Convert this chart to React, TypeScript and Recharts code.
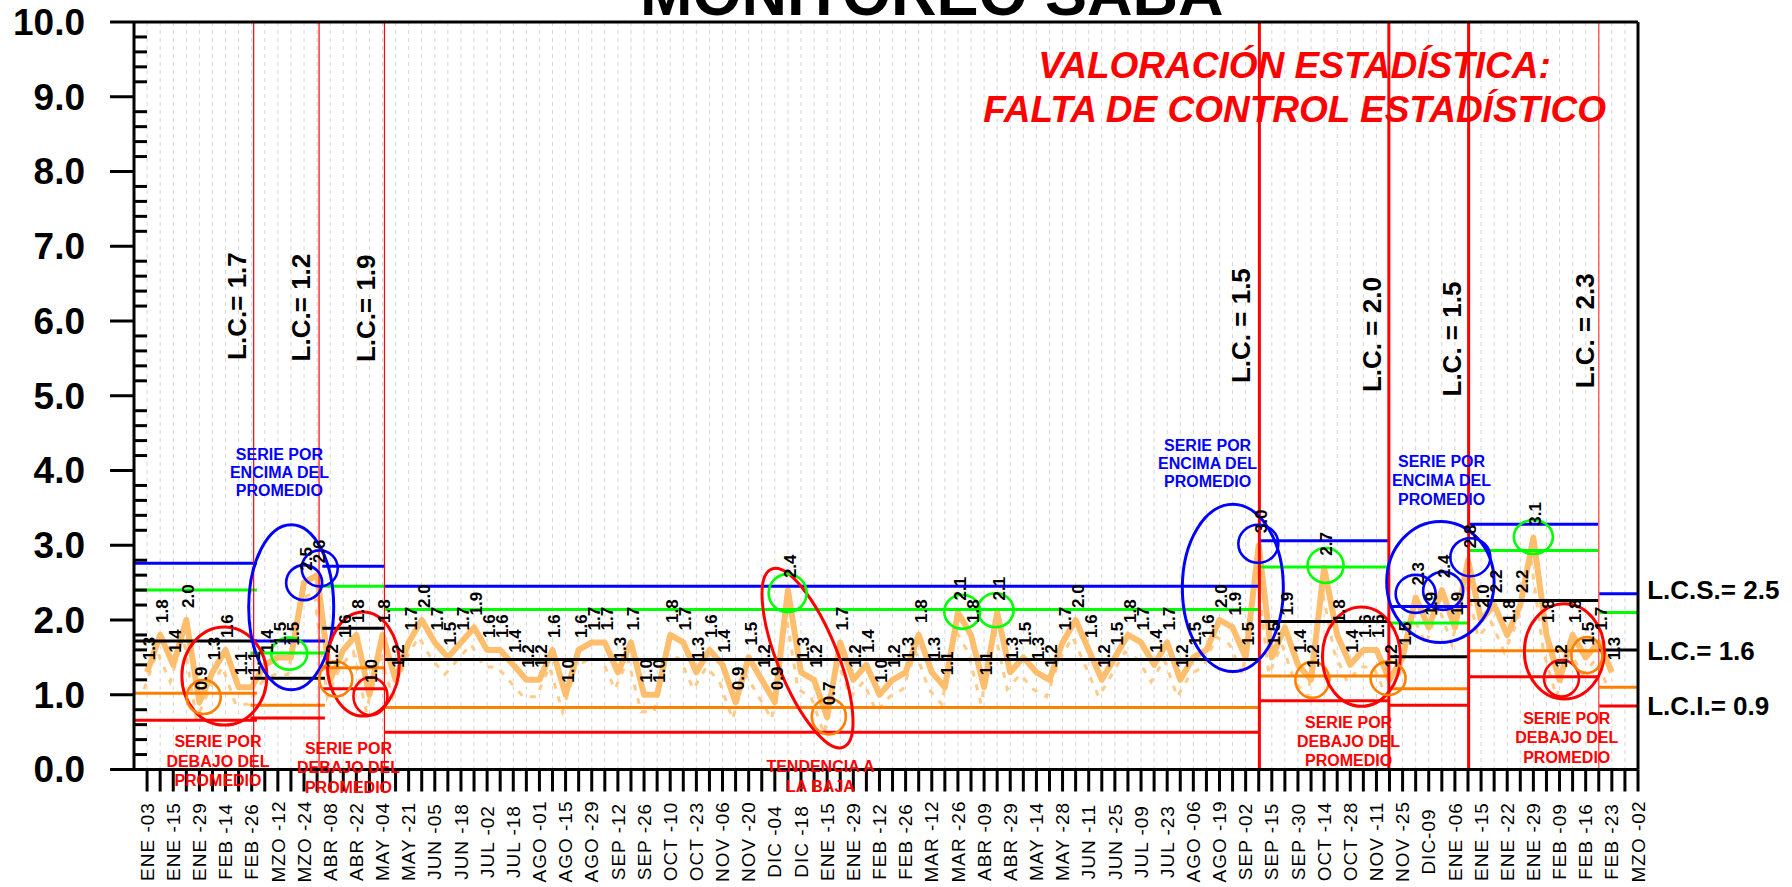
import React from 'react';
import {
  LineChart,
  Line,
  XAxis,
  YAxis,
  CartesianGrid,
  ReferenceLine,
  ReferenceDot,
  LabelList,
} from 'recharts';

// valores semanales (posicion 1..113)
const valores = [
  1.3, 1.8, 1.4, 2.0, 0.9, 1.3, 1.6, 1.1, 1.1, 1.4,
  1.5, 1.5, 2.5, 2.6, 1.2, 1.6, 1.8, 1.0, 1.8, 1.2,
  1.7, 2.0, 1.7, 1.5, 1.7, 1.9, 1.6, 1.6, 1.4, 1.2,
  1.2, 1.6, 1.0, 1.6, 1.7, 1.7, 1.3, 1.7, 1.0, 1.0,
  1.8, 1.7, 1.3, 1.6, 1.4, 0.9, 1.5, 1.2, 0.9, 2.4,
  1.3, 1.2, 0.7, 1.7, 1.2, 1.4, 1.0, 1.2, 1.3, 1.8,
  1.3, 1.1, 2.1, 1.8, 1.1, 2.1, 1.3, 1.5, 1.3, 1.2,
  1.7, 2.0, 1.6, 1.2, 1.5, 1.8, 1.7, 1.4, 1.7, 1.2,
  1.5, 1.6, 2.0, 1.9, 1.5, 3.0, 1.5, 1.9, 1.4, 1.2,
  2.7, 1.8, 1.4, 1.6, 1.6, 1.2, 1.5, 2.3, 1.9, 2.4,
  1.9, 2.8, 2.0, 2.2, 1.8, 2.2, 3.1, 1.8, 1.2, 1.8,
  1.5, 1.7, 1.3,
];

// una etiqueta cada dos semanas (posiciones impares)
const fechas = [
  'ENE -03', 'ENE -15', 'ENE -29', 'FEB -14', 'FEB -26', 'MZO -12', 'MZO -24',
  'ABR -08', 'ABR -22', 'MAY -04', 'MAY -21', 'JUN -05', 'JUN -18', 'JUL -02',
  'JUL -18', 'AGO -01', 'AGO -15', 'AGO -29', 'SEP -12', 'SEP -26', 'OCT -10',
  'OCT -23', 'NOV -06', 'NOV -20', 'DIC -04', 'DIC -18', 'ENE -15', 'ENE -29',
  'FEB -12', 'FEB -26', 'MAR -12', 'MAR -26', 'ABR -09', 'ABR -29', 'MAY -14',
  'MAY -28', 'JUN -11', 'JUN -25', 'JUL -09', 'JUL -23', 'AGO -06', 'AGO -19',
  'SEP -02', 'SEP -15', 'SEP -30', 'OCT -14', 'OCT -28', 'NOV -11', 'NOV -25',
  'DIC-09', 'ENE -06', 'ENE -15', 'ENE -22', 'ENE -29', 'FEB -09', 'FEB -16',
  'FEB -23', 'MZO -02',
];

const totalPosiciones = 115;

const AZUL = '#0000FF';
const VERDE = '#00FF00';
const NARANJA = '#FF8000';
const ROJO = '#FF0000';

// limites por fase: lcs (azul), sup (verde), lc (negro), inf (naranja), lci (rojo)
const fases = [
  { desde: 0, hasta: 9.4, lcs: 2.76, sup: 2.4, lc: 1.72, inf: 1.02, lci: 0.66 },
  { desde: 8.9, hasta: 14.6, lcs: 1.72, sup: 1.56, lc: 1.22, inf: 0.86, lci: 0.69 },
  { desde: 14.4, hasta: 19.2, lcs: 2.72, sup: 2.45, lc: 1.89, inf: 1.36, lci: 1.08 },
  { desde: 19.2, hasta: 86.1, lcs: 2.45, sup: 2.14, lc: 1.47, inf: 0.83, lci: 0.5 },
  { desde: 86.05, hasta: 95.95, lcs: 3.06, sup: 2.71, lc: 1.98, inf: 1.25, lci: 0.92 },
  { desde: 95.95, hasta: 102.05, lcs: 2.18, sup: 1.96, lc: 1.51, inf: 1.08, lci: 0.86 },
  { desde: 102.05, hasta: 112, lcs: 3.28, sup: 2.93, lc: 2.26, inf: 1.59, lci: 1.24 },
  { desde: 112, hasta: 115, lcs: 2.35, sup: 2.1, lc: 1.6, inf: 1.1, lci: 0.85 },
];

const cortes = [
  { k: 9.15, ancho: 1.2, color: ROJO },
  { k: 14.15, ancho: 1.2, color: ROJO },
  { k: 19.15, ancho: 1.2, color: ROJO },
  { k: 86.05, ancho: 3, color: ROJO },
  { k: 95.95, ancho: 3, color: ROJO },
  { k: 102.05, ancho: 3, color: ROJO },
  { k: 112, ancho: 1.5, color: '#FF6060' },
];

const circulos = [
  { k: 6.91, v: 1.25, rx: 42.5, ry: 49, rot: 0, color: ROJO },
  { k: 5.33, v: 0.97, rx: 17, ry: 17, rot: 0, color: NARANJA },
  { k: 12.02, v: 2.17, rx: 42.5, ry: 82.5, rot: 0, color: AZUL },
  { k: 11.87, v: 1.55, rx: 18, ry: 16, rot: 0, color: VERDE },
  { k: 13.01, v: 2.5, rx: 18, ry: 17.5, rot: 0, color: AZUL },
  { k: 14.2, v: 2.69, rx: 18, ry: 18, rot: 0, color: AZUL },
  { k: 17.53, v: 1.41, rx: 36, ry: 52, rot: 0, color: ROJO },
  { k: 15.43, v: 1.21, rx: 16.5, ry: 17.5, rot: 0, color: NARANJA },
  { k: 18.08, v: 0.98, rx: 17, ry: 19, rot: 0, color: ROJO },
  { k: 51.5, v: 1.49, rx: 30, ry: 96, rot: -22, color: ROJO },
  { k: 49.98, v: 2.36, rx: 19, ry: 19, rot: 0, color: VERDE },
  { k: 53.13, v: 0.71, rx: 17, ry: 18, rot: 0, color: NARANJA },
  { k: 63.33, v: 2.11, rx: 18, ry: 17, rot: 0, color: VERDE },
  { k: 65.88, v: 2.13, rx: 18, ry: 17, rot: 0, color: VERDE },
  { k: 84.02, v: 2.43, rx: 50.5, ry: 83.7, rot: 0, color: AZUL },
  { k: 85.97, v: 3.02, rx: 20, ry: 19, rot: 0, color: AZUL },
  { k: 90.1, v: 1.2, rx: 17, ry: 18, rot: 0, color: NARANJA },
  { k: 91.11, v: 2.73, rx: 18, ry: 17.5, rot: 0, color: VERDE },
  { k: 93.85, v: 1.51, rx: 39, ry: 49.7, rot: 0, color: ROJO },
  { k: 95.89, v: 1.22, rx: 17.5, ry: 16.7, rot: 0, color: NARANJA },
  { k: 99.89, v: 2.51, rx: 53.7, ry: 60.5, rot: 0, color: AZUL },
  { k: 98.0, v: 2.35, rx: 20, ry: 19, rot: 0, color: AZUL },
  { k: 100.1, v: 2.39, rx: 20, ry: 19, rot: 0, color: AZUL },
  { k: 102.18, v: 2.84, rx: 20, ry: 19, rot: 0, color: AZUL },
  { k: 107.0, v: 3.11, rx: 19.5, ry: 17, rot: 0, color: VERDE },
  { k: 109.37, v: 1.58, rx: 40, ry: 47.7, rot: 0, color: ROJO },
  { k: 109.15, v: 1.22, rx: 17.5, ry: 18.3, rot: 0, color: ROJO },
  { k: 111.09, v: 1.53, rx: 15.5, ry: 18, rot: 0, color: NARANJA },
];

const notas = [
  { k: 11.12, v: 4.21, color: AZUL, alto: 18, lineas: ['SERIE POR', 'ENCIMA DEL', 'PROMEDIO'] },
  { k: 6.42, v: 0.375, color: ROJO, alto: 19.5, lineas: ['SERIE POR', 'DEBAJO DEL', 'PROMEDIO'] },
  { k: 16.4, v: 0.288, color: ROJO, alto: 19.5, lineas: ['SERIE POR', 'DEBAJO DEL', 'PROMEDIO'] },
  { k: 52.49, v: 0.04, color: ROJO, alto: 20, lineas: ['TENDENCIA A', 'LA BAJA'] },
  { k: 82.09, v: 4.33, color: AZUL, alto: 18, lineas: ['SERIE POR', 'ENCIMA DEL', 'PROMEDIO'] },
  { k: 92.87, v: 0.629, color: ROJO, alto: 19, lineas: ['SERIE POR', 'DEBAJO DEL', 'PROMEDIO'] },
  { k: 99.98, v: 4.118, color: AZUL, alto: 19, lineas: ['SERIE POR', 'ENCIMA DEL', 'PROMEDIO'] },
  { k: 109.55, v: 0.685, color: ROJO, alto: 19.4, lineas: ['SERIE POR', 'DEBAJO DEL', 'PROMEDIO'] },
];

const textosLC = [
  { k: 7.83, v: 5.48, texto: 'L.C.= 1.7' },
  { k: 12.8, v: 5.46, texto: 'L.C.= 1.2' },
  { k: 17.77, v: 5.45, texto: 'L.C.= 1.9' },
  { k: 84.62, v: 5.17, texto: 'L.C. = 1.5' },
  { k: 94.68, v: 5.05, texto: 'L.C. = 2.0' },
  { k: 100.8, v: 4.99, texto: 'L.C. = 1.5' },
  { k: 110.92, v: 5.1, texto: 'L.C. = 2.3' },
];

const limitesFinales = [
  { v: 2.4, texto: 'L.C.S.= 2.5' },
  { v: 1.58, texto: 'L.C.= 1.6' },
  { v: 0.85, texto: 'L.C.I.= 0.9' },
];

const datos = valores.map((v, i) => ({ k: i + 1, v }));
const ticksX = Array.from({ length: totalPosiciones }, (_, i) => i + 1);
const ticksY = Array.from({ length: 51 }, (_, i) => Math.round(i * 2) / 10);

const TICK_Y = 24;
const MARGEN_Y = 25;

const TickValor = (props: any) => {
  const { x, y, payload } = props;
  const v = payload.value;
  const ejeX = x + TICK_Y + MARGEN_Y;
  const mayor = Math.abs(v - Math.round(v)) < 1e-6;
  if (mayor) {
    return (
      <g>
        <line x1={ejeX - TICK_Y} x2={ejeX} y1={y} y2={y} stroke="#000" strokeWidth={3} />
        <text x={x} y={y} dy="0.35em" textAnchor="end" fontSize={37} fontWeight="bold" fill="#000">
          {v.toFixed(1)}
        </text>
      </g>
    );
  }
  return <line x1={ejeX} x2={ejeX + 13} y1={y} y2={y} stroke="#000" strokeWidth={3} />;
};

const TickFecha = (props: any) => {
  const { x, y, payload } = props;
  const k = payload.value;
  if (k % 2 === 0) return <g />;
  const ty = y + 50;
  return (
    <text
      x={x}
      y={ty}
      transform={`rotate(-90 ${x} ${ty})`}
      textAnchor="middle"
      dy="0.35em"
      fontSize={19}
      letterSpacing={1}
      fill="#000"
    >
      {fechas[(k - 1) / 2]}
    </text>
  );
};

const EtiquetaDato = (props: any) => {
  const { x, y, value } = props;
  const tx = x + 2;
  const ty = y - 12;
  return (
    <text
      x={tx}
      y={ty}
      transform={`rotate(-90 ${tx} ${ty})`}
      textAnchor="start"
      dy="0.35em"
      fontSize={17}
      fontWeight="bold"
      fill="#000"
    >
      {Number(value).toFixed(1)}
    </text>
  );
};

export default function App() {
  return (
    <div
      style={{
        position: 'absolute',
        left: 0,
        top: 0,
        width: 1792,
        height: 887,
        background: '#fff',
        fontFamily: "'Liberation Sans', Arial, sans-serif",
      }}
    >
      <style>{`.sombra path { transform: translate(-3px, 17px); }`}</style>
      <LineChart
        width={1792}
        height={887}
        data={datos}
        margin={{ top: 22, right: 154, bottom: 0, left: 0 }}
      >
        <CartesianGrid horizontal={false} stroke="#d6d6d6" strokeDasharray="4 4" />
        <XAxis
          dataKey="k"
          type="number"
          domain={[0, totalPosiciones]}
          ticks={ticksX}
          interval={0}
          height={117.5}
          tickSize={22}
          tickMargin={0}
          axisLine={{ stroke: '#000', strokeWidth: 3 }}
          tickLine={{ stroke: '#000', strokeWidth: 3 }}
          tick={<TickFecha />}
        />
        <YAxis
          type="number"
          domain={[0, 10]}
          ticks={ticksY}
          interval={0}
          width={134}
          tickSize={TICK_Y}
          tickMargin={MARGEN_Y}
          axisLine={{ stroke: '#000', strokeWidth: 3 }}
          tickLine={false}
          tick={<TickValor />}
        />
        <Line
          className="sombra"
          dataKey="v"
          stroke="#FFCA8A"
          strokeWidth={3}
          strokeDasharray="6 8"
          dot={false}
          activeDot={false}
          isAnimationActive={false}
        />
        <Line
          dataKey="v"
          stroke="#FFBE6E"
          strokeWidth={6}
          strokeLinejoin="round"
          dot={false}
          activeDot={false}
          isAnimationActive={false}
        >
          <LabelList dataKey="v" content={<EtiquetaDato />} />
        </Line>

        {fases.flatMap((f, i) =>
          [
            { v: f.lcs, c: AZUL },
            { v: f.sup, c: VERDE },
            { v: f.lc, c: '#000' },
            { v: f.inf, c: NARANJA },
            { v: f.lci, c: ROJO },
          ].map((n, j) => (
            <ReferenceLine
              key={`f${i}-${j}`}
              segment={[
                { x: f.desde, y: n.v },
                { x: f.hasta, y: n.v },
              ]}
              stroke={n.c}
              strokeWidth={3}
              ifOverflow="visible"
            />
          ))
        )}

        {cortes.map((c, i) => (
          <ReferenceLine key={`c${i}`} x={c.k} stroke={c.color} strokeWidth={c.ancho} />
        ))}
        <ReferenceLine y={10} stroke="#000" strokeWidth={3} />
        <ReferenceLine x={totalPosiciones} stroke="#000" strokeWidth={3} />

        {circulos.map((c, i) => (
          <ReferenceDot
            key={`o${i}`}
            x={c.k}
            y={c.v}
            r={1}
            ifOverflow="visible"
            shape={(p: any) => (
              <ellipse
                cx={p.cx}
                cy={p.cy}
                rx={c.rx}
                ry={c.ry}
                transform={`rotate(${c.rot} ${p.cx} ${p.cy})`}
                fill="none"
                stroke={c.color}
                strokeWidth={c.rx > 25 ? 3 : 2.6}
              />
            )}
          />
        ))}

        {notas.map((n, i) => (
          <ReferenceDot
            key={`n${i}`}
            x={n.k}
            y={n.v}
            r={1}
            ifOverflow="visible"
            shape={(p: any) => (
              <text
                x={p.cx}
                y={p.cy}
                textAnchor="middle"
                fontSize={16}
                fontWeight="bold"
                fill={n.color}
              >
                {n.lineas.map((l, j) => (
                  <tspan key={j} x={p.cx} y={p.cy + j * n.alto} dy="0.35em">
                    {l}
                  </tspan>
                ))}
              </text>
            )}
          />
        ))}

        {textosLC.map((t, i) => (
          <ReferenceDot
            key={`t${i}`}
            x={t.k}
            y={t.v}
            r={1}
            ifOverflow="visible"
            shape={(p: any) => (
              <text
                x={p.cx}
                y={p.cy}
                transform={`rotate(-90 ${p.cx} ${p.cy})`}
                textAnchor="start"
                dy="0.35em"
                fontSize={26}
                fontWeight="bold"
                fill="#000"
              >
                {t.texto}
              </text>
            )}
          />
        ))}

        {limitesFinales.map((t, i) => (
          <ReferenceDot
            key={`l${i}`}
            x={115.7}
            y={t.v}
            r={1}
            ifOverflow="visible"
            shape={(p: any) => (
              <text x={p.cx} y={p.cy} dy="0.35em" fontSize={26} fontWeight="bold" fill="#000">
                {t.texto}
              </text>
            )}
          />
        ))}

        <ReferenceDot
          x={61}
          y={10.1}
          r={1}
          ifOverflow="visible"
          shape={(p: any) => (
            <text x={p.cx} y={p.cy} textAnchor="middle" fontSize={63} fontWeight="bold" fill="#000">
              MONITOREO SABA
            </text>
          )}
        />
        <ReferenceDot
          x={88.74}
          y={9.245}
          r={1}
          ifOverflow="visible"
          shape={(p: any) => (
            <text
              x={p.cx}
              y={p.cy}
              textAnchor="middle"
              fontSize={37}
              fontWeight="bold"
              fontStyle="italic"
              fill={ROJO}
            >
              <tspan x={p.cx} y={p.cy}>VALORACIÓN ESTADÍSTICA:</tspan>
              <tspan x={p.cx} y={p.cy + 43.5}>FALTA DE CONTROL ESTADÍSTICO</tspan>
            </text>
          )}
        />
      </LineChart>
    </div>
  );
}
